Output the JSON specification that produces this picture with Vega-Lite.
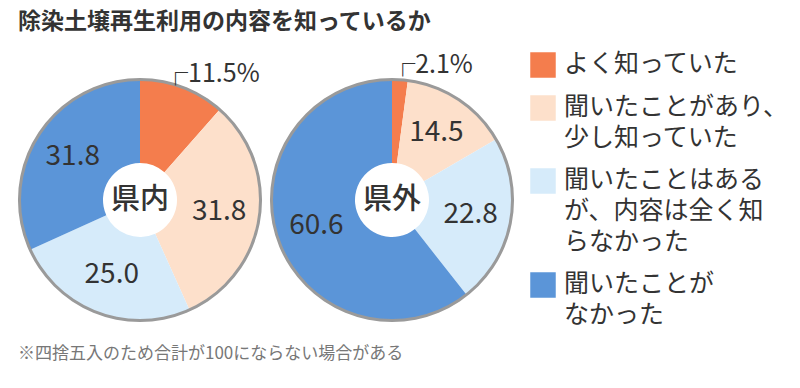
{
  "$schema": "https://vega.github.io/schema/vega-lite/v6.json",
  "background": "white",
  "padding": {"left": 18, "top": 11, "right": 4, "bottom": 4},
  "config": {"font": "Noto Sans CJK JP", "view": {"stroke": null}},
  "title": {"text": "除染土壌再生利用の内容を知っているか", "anchor": "start", "fontSize": 23, "fontWeight": "bold", "color": "#333", "offset": 18, "frame": "group"},
  "data": {"values": [
    {"region": "県内", "k": 1, "category": "よく知っていた", "value": 11.5},
    {"region": "県内", "k": 2, "category": "聞いたことがあり、\n少し知っていた", "value": 31.8},
    {"region": "県内", "k": 3, "category": "聞いたことはある\nが、内容は全く知\nらなかった", "value": 25.0},
    {"region": "県内", "k": 4, "category": "聞いたことが\nなかった", "value": 31.8},
    {"region": "県外", "k": 1, "category": "よく知っていた", "value": 2.1},
    {"region": "県外", "k": 2, "category": "聞いたことがあり、\n少し知っていた", "value": 14.5},
    {"region": "県外", "k": 3, "category": "聞いたことはある\nが、内容は全く知\nらなかった", "value": 22.8},
    {"region": "県外", "k": 4, "category": "聞いたことが\nなかった", "value": 60.6}
  ]},
  "facet": {"column": {"field": "region", "sort": ["県内", "県外"], "title": "※四捨五入のため合計が100にならない場合がある",
    "header": {"labels": false, "titleOrient": "bottom", "titleAnchor": "start", "titleFontSize": 17, "titleColor": "#777", "titleFontWeight": "normal", "titlePadding": 14}}},
  "spacing": 8,
  "bounds": "flush",
  "resolve": {"scale": {"theta": "independent"}},
  "spec": {
    "width": 244,
    "height": 244,
    "transform": [
      {"calculate": "datum.k == 1 ? '' : format(datum.value, '.1f')", "as": "inner"},
      {"calculate": "datum.k == 1 ? '┌' + format(datum.value, '.1f') + '%' : ''", "as": "outer"}
    ],
    "layer": [
      {
        "mark": {"type": "arc", "innerRadius": 37, "outerRadius": 120},
        "encoding": {
          "theta": {"field": "value", "type": "quantitative", "stack": true},
          "order": {"field": "k", "type": "quantitative"},
          "color": {"field": "category", "type": "nominal",
            "scale": {"domain": ["よく知っていた", "聞いたことがあり、\n少し知っていた", "聞いたことはある\nが、内容は全く知\nらなかった", "聞いたことが\nなかった"],
                      "range": ["#f47d4d", "#fde0cb", "#d6ebfa", "#5b95d8"]},
            "legend": {"title": null, "orient": "none", "legendX": 512, "legendY": -26,
              "symbolType": "square", "symbolSize": 650, "symbolStrokeWidth": 0, "symbolOpacity": 1,
              "labelFontSize": 25, "labelColor": "#333", "labelLimit": 400, "labelOffset": 8,
              "labelExpr": "split(datum.label, '\\n')", "labelBaseline": "top", "rowPadding": 17,
              "encode": {"labels": {"update": {"lineHeight": {"value": 31}, "dy": {"value": -13}}}}}
          }
        }
      },
      {
        "transform": [{"filter": "datum.k == 1"}],
        "mark": {"type": "arc", "innerRadius": 119, "outerRadius": 122, "theta": 0, "theta2": 6.2832, "fill": "#9a9a9a"},
        "encoding": {}
      },
      {
        "mark": {"type": "text", "radius": 80, "fontSize": 28, "color": "#333"},
        "encoding": {
          "theta": {"field": "value", "type": "quantitative", "stack": true},
          "order": {"field": "k", "type": "quantitative"},
          "text": {"field": "inner"}
        }
      },
      {
        "mark": {"type": "text", "radius": 135, "fontSize": 25, "color": "#333", "align": "right", "dx": 72},
        "encoding": {
          "theta": {"field": "value", "type": "quantitative", "stack": true},
          "order": {"field": "k", "type": "quantitative"},
          "text": {"field": "outer"}
        }
      },
      {
        "transform": [{"filter": "datum.k == 1"}],
        "mark": {"type": "text", "fontSize": 29, "fontWeight": 500, "color": "#333"},
        "encoding": {"text": {"field": "region"}}
      }
    ]
  }
}
